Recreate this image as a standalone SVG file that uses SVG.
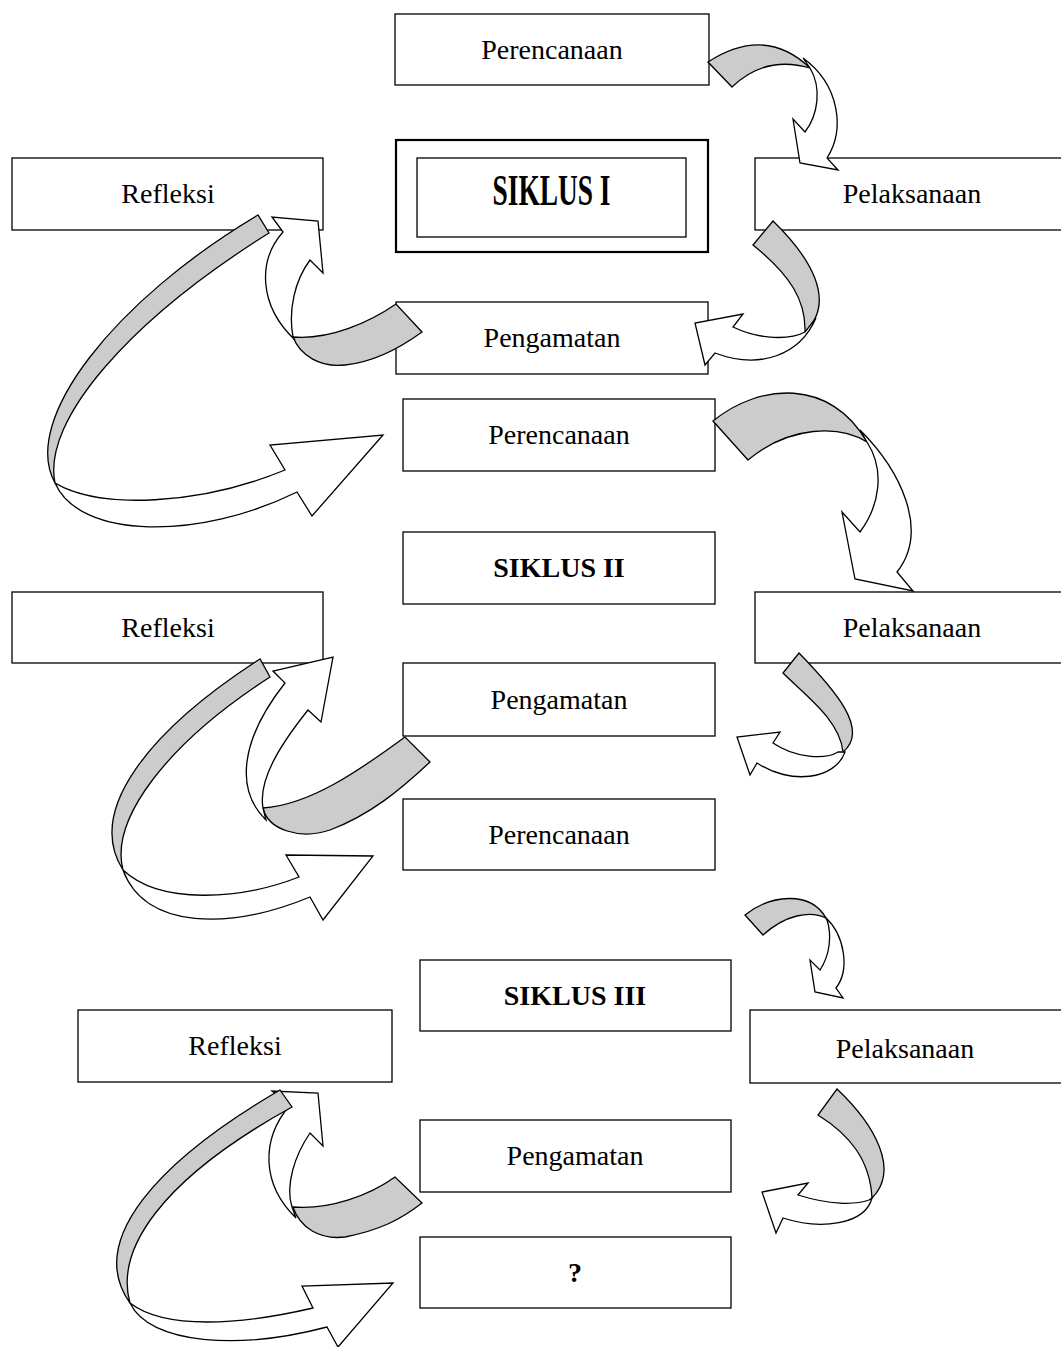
<svg xmlns="http://www.w3.org/2000/svg" width="1061" height="1347" viewBox="0 0 1061 1347">
<style>
.box{fill:#fff;stroke:#000;stroke-width:1.3}
.t{font-family:"Liberation Serif","Times New Roman",serif;font-size:28px;text-anchor:middle;fill:#000}
.b{font-weight:bold}
.big{font-size:44px}
.g{fill:#cccccc;stroke:#000;stroke-width:1.3;stroke-linejoin:miter}
.w{fill:#fff;stroke:#000;stroke-width:1.3;stroke-linejoin:miter}
</style>
<rect width="1061" height="1347" fill="#fff"/>
<!-- Cycle I -->
<g id="perencanaan1"><rect class="box" x="395" y="14" width="314" height="71"/><text class="t" x="552" y="59">Perencanaan</text></g>
<g id="refleksi1"><rect class="box" x="12" y="158" width="311" height="72"/><text class="t" x="168" y="203">Refleksi</text></g>
<g id="siklus1"><rect x="396" y="140" width="312" height="112" fill="#fff" stroke="#000" stroke-width="2.2"/><rect class="box" x="417" y="158" width="269" height="79"/><text class="t b big" x="551.5" y="205" textLength="118" lengthAdjust="spacingAndGlyphs">SIKLUS I</text></g>
<g id="pelaksanaan1"><rect class="box" x="755" y="158" width="314" height="72"/><text class="t" x="912" y="203">Pelaksanaan</text></g>
<g id="pengamatan1"><rect class="box" x="396" y="302" width="312" height="72"/><text class="t" x="552" y="347">Pengamatan</text></g>
<!-- Cycle II -->
<g id="perencanaan2"><rect class="box" x="403" y="399" width="312" height="72"/><text class="t" x="559" y="444">Perencanaan</text></g>
<g id="siklus2"><rect class="box" x="403" y="532" width="312" height="72"/><text class="t b" x="559" y="577">SIKLUS II</text></g>
<g id="refleksi2"><rect class="box" x="12" y="592" width="311" height="71"/><text class="t" x="168" y="637">Refleksi</text></g>
<g id="pelaksanaan2"><rect class="box" x="755" y="592" width="314" height="71"/><text class="t" x="912" y="637">Pelaksanaan</text></g>
<g id="pengamatan2"><rect class="box" x="403" y="663" width="312" height="73"/><text class="t" x="559" y="709">Pengamatan</text></g>
<!-- Cycle III -->
<g id="perencanaan3"><rect class="box" x="403" y="799" width="312" height="71"/><text class="t" x="559" y="844">Perencanaan</text></g>
<g id="siklus3"><rect class="box" x="420" y="960" width="311" height="71"/><text class="t b" x="575" y="1005">SIKLUS III</text></g>
<g id="refleksi3"><rect class="box" x="78" y="1010" width="314" height="72"/><text class="t" x="235" y="1055">Refleksi</text></g>
<g id="pelaksanaan3"><rect class="box" x="750" y="1010" width="318" height="73"/><text class="t" x="905" y="1058">Pelaksanaan</text></g>
<g id="pengamatan3"><rect class="box" x="420" y="1120" width="311" height="72"/><text class="t" x="575" y="1165">Pengamatan</text></g>
<g id="tanya"><rect class="box" x="420" y="1237" width="311" height="71"/><text class="t b" x="575" y="1282">?</text></g>
<g id="connectors">
<!-- A: Perencanaan1 -> Pelaksanaan1 -->
<path class="g" d="M708,62 Q765,25 810,68 Q765,55 732,87 Z"/>
<path class="w" d="M803,58 C840,85 845,130 827,158 L838,170 L800,163 L793,119 L805,132 C818,115 822,88 810,68 Z"/>
<!-- B: Pelaksanaan1 -> Pengamatan1 -->
<path class="g" d="M773,221 C808,255 838,300 805,332 C806,300 790,275 753,245 Z"/>
<path class="w" d="M816,318 C800,355 760,370 715,353 L705,365 L695,323 L743,314 L733,327 C760,340 790,340 805,332 Z"/>
<!-- C: Pengamatan1 -> Refleksi1 -->
<path class="g" d="M396,304 C370,322 330,340 293,337 C300,355 320,368 345,365 C375,362 400,348 422,332 Z"/>
<path class="w" d="M295,340 C258,305 258,260 283,232 L272,217 L318,221 L323,273 L310,260 C295,280 288,310 293,337 Z"/>
<!-- D: Refleksi1 -> Perencanaan2 -->
<path class="g" d="M258,215 C115,300 20,420 55,483 C42,420 130,320 269,233 Z"/>
<path class="w" d="M55,483 C80,540 200,540 297,492 L312,516 L383,435 L270,445 L285,470 C200,505 100,510 55,483 Z"/>
<!-- E: Perencanaan2 -> Pelaksanaan2 -->
<path class="g" d="M713,421 C760,383 830,378 867,442 C840,425 790,425 748,460 Z"/>
<path class="w" d="M860,430 C900,470 930,530 897,572 L913,591 L855,579 L842,512 L860,532 C880,505 885,470 867,442 Z"/>
<!-- F: Pelaksanaan2 -> Pengamatan2 -->
<path class="g" d="M799,653 C835,690 870,730 843,752 C840,720 805,695 783,673 Z"/>
<path class="w" d="M845,752 C835,780 790,785 757,763 L750,775 L737,737 L780,732 L773,743 C795,758 825,760 838,752 Z"/>
<!-- G: Pengamatan2 -> Refleksi2 -->
<path class="g" d="M405,737 C360,770 310,805 263,808 C268,830 300,840 330,830 C370,815 400,790 430,762 Z"/>
<path class="w" d="M266,820 C235,790 240,740 285,683 L273,671 L333,657 L321,722 L308,710 C280,745 258,780 263,808 Z"/>
<!-- H: Refleksi2 -> Perencanaan3 -->
<path class="g" d="M260,659 C150,730 85,810 123,870 C110,820 165,745 270,677 Z"/>
<path class="w" d="M123,870 C145,930 230,930 310,897 L323,920 L373,856 L286,855 L299,877 C240,900 160,905 123,870 Z"/>
<!-- I: Perencanaan3 -> Pelaksanaan3 -->
<path class="g" d="M745,915 C770,895 810,890 826,918 C810,910 785,915 763,935 Z"/>
<path class="w" d="M825,917 C845,935 850,970 836,988 L843,998 L815,992 L810,960 L820,970 C830,955 832,935 827,920 Z"/>
<!-- J: Pelaksanaan3 -> Pengamatan3 -->
<path class="g" d="M837,1089 C875,1125 900,1170 872,1198 C870,1160 850,1135 818,1115 Z"/>
<path class="w" d="M872,1198 C865,1225 820,1230 783,1218 L776,1233 L762,1192 L808,1183 L798,1195 C830,1205 855,1205 869,1200 Z"/>
<!-- K: Pengamatan3 -> Refleksi3 -->
<path class="g" d="M395,1177 C370,1195 330,1210 293,1207 C300,1228 320,1240 345,1237 C380,1230 400,1220 422,1203 Z"/>
<path class="w" d="M296,1218 C262,1185 260,1140 290,1105 L272,1091 L318,1093 L323,1146 L310,1133 C295,1155 285,1185 292,1207 Z"/>
<!-- L: Refleksi3 -> ? -->
<path class="g" d="M280,1090 C160,1160 85,1240 130,1303 C115,1250 160,1180 292,1107 Z"/>
<path class="w" d="M130,1303 C150,1345 240,1350 327,1327 L338,1347 L393,1283 L302,1286 L313,1308 C240,1325 165,1330 130,1303 Z"/>
</g>
</svg>
